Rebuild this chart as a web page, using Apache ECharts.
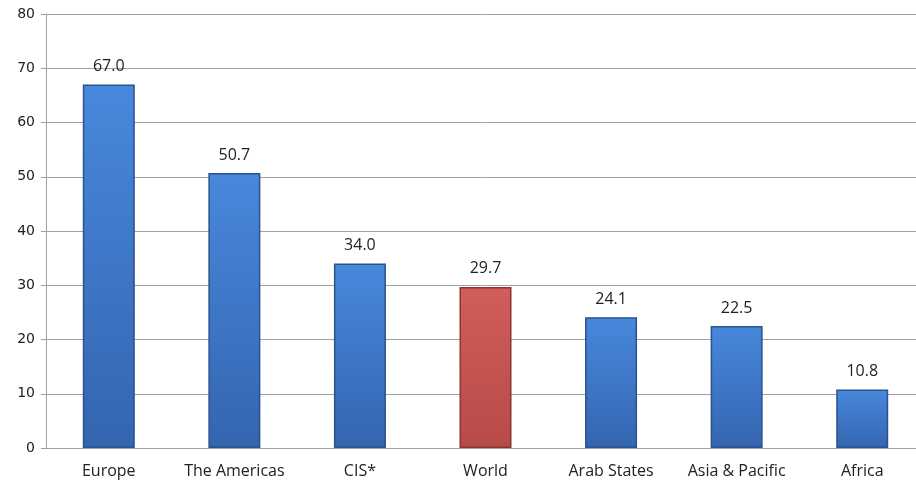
<!DOCTYPE html>
<html><head><meta charset="utf-8">
<script src="https://cdn.jsdelivr.net/npm/echarts@6/dist/echarts.min.js"></script>
<style>html,body{margin:0;padding:0;background:#fff}#c{width:916px;height:480px}</style>
</head><body><div id="c"></div>
<script>
const categories = ["Europe","The Americas","CIS*","World","Arab States","Asia & Pacific","Africa"];
const values = [67.0, 50.7, 34.0, 29.7, 24.1, 22.5, 10.8];
const highlight = "World";
const yTicks = {min:0, max:80, interval:10};

function grad(top, bottom){
  return new echarts.graphic.LinearGradient(0,0,0,1,[
    {offset:0,color:top},{offset:1,color:bottom}
  ]);
}
const blue = grad('#4888dc','#3465b0');
const red = grad('#d25d5a','#b74a47');

const chart = echarts.init(document.getElementById('c'));
chart.setOption({
  animation:false,
  grid:{left:46,width:879,top:14,bottom:32,containLabel:false,outerBoundsMode:'none'},
  xAxis:{type:'category',data:categories,
    axisLine:{lineStyle:{color:'#a0a0a0'}},axisTick:{show:false},
    axisLabel:{interval:0,hideOverlap:false,color:'#222',fontSize:16,fontFamily:'Open Sans',margin:15}},
  yAxis:{type:'value',min:yTicks.min,max:yTicks.max,interval:yTicks.interval,
    axisLine:{show:true,lineStyle:{color:'#a0a0a0'}},
    axisTick:{show:true,length:5,lineStyle:{color:'#a0a0a0'}},
    splitLine:{lineStyle:{color:'#a0a0a0'}},
    axisLabel:{color:'#222',fontSize:14,fontFamily:'DejaVu Sans',margin:11}},
  series:[{type:'bar',barWidth:52,
    data:values.map((v,i)=>({value:v,itemStyle:{color:categories[i]===highlight?red:blue,
      borderColor:categories[i]===highlight?'#8e3432':'#2a528c',borderWidth:1.5}})),
    label:{show:true,position:'top',distance:10,color:'#222',fontSize:16,fontFamily:'Open Sans',
      formatter:p=>p.value.toFixed(1)}}]
});
</script></body></html>
